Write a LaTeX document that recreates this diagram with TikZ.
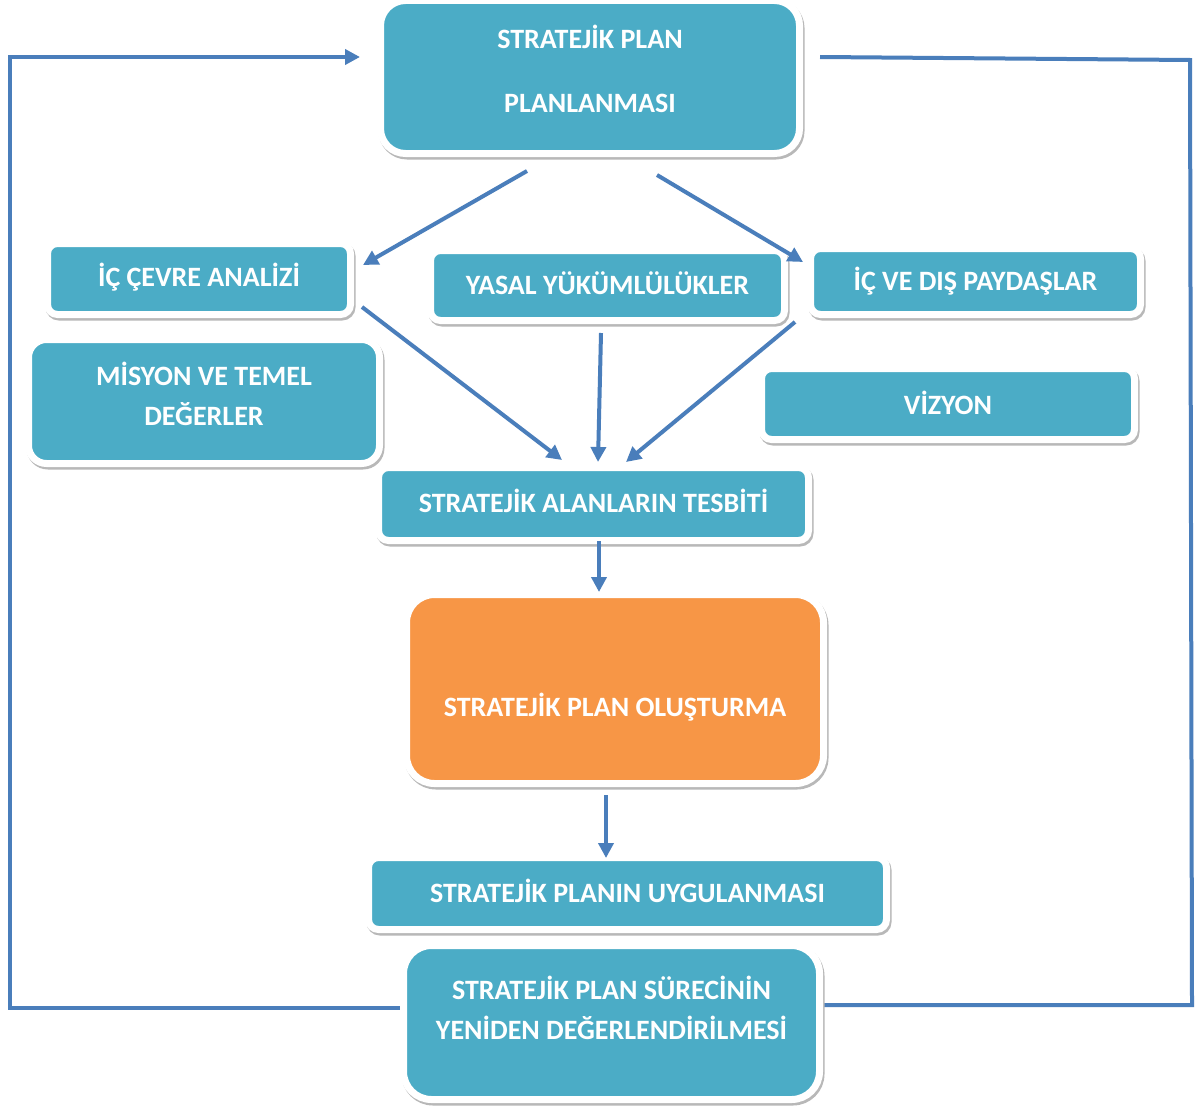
\documentclass[tikz,border=0pt]{standalone}
\usepackage{fontspec}
\setmainfont{Carlito}
\usetikzlibrary{calc,arrows.meta}
\definecolor{tealbox}{HTML}{4BACC6}
\definecolor{orangebox}{HTML}{F79646}
\definecolor{arrc}{HTML}{4A7EBB}
\tikzset{
  box/.style={draw=white, line width=7pt, fill=tealbox, rounded corners=#1, inner sep=0pt, outer sep=3.5pt,
    preaction={draw=black!28, fill=black!28, line width=7pt, transform canvas={shift={(1.5pt,-2.5pt)}}}},
  box/.default=10pt,
  txt/.style={text=white, font=\bfseries\fontsize{28}{40}\selectfont, align=center, inner sep=0pt},
  arr/.style={draw=arrc, line width=4pt, -{Triangle[length=15pt,width=15pt]}},
  loopline/.style={draw=arrc, line width=4pt, line join=miter}
}
\begin{document}
\begin{tikzpicture}[x=1pt,y=-1pt]
\useasboundingbox[fill=white] (0,0) rectangle (1198,1108);
% boxes
\node[box=25pt, minimum width=419pt, minimum height=153pt] (top) at (590,77) {};
\node[box, minimum width=303pt, minimum height=71pt] (b2) at (199,279) {};
\node[box, minimum width=354pt, minimum height=70pt] (b3) at (607.5,285.5) {};
\node[box, minimum width=330pt, minimum height=66pt] (b4) at (975.5,281.5) {};
\node[box=18pt, minimum width=351pt, minimum height=124pt] (b5) at (204,401.5) {};
\node[box, minimum width=373pt, minimum height=71pt] (b6) at (948,404) {};
\node[box, minimum width=430pt, minimum height=73pt] (b7) at (593.5,504) {};
\node[box=28pt, fill=orangebox, minimum width=417pt, minimum height=189pt] (b8) at (615,689) {};
\node[box, minimum width=518pt, minimum height=72pt] (b9) at (627.5,893.5) {};
\coordinate (b10c) at (611.5,1022.5);
\coordinate (LL) at (10,57);
\coordinate (RT) at (1190,60);
\coordinate (RB) at (1192,1005);
% feedback loops (drawn under the last box)
\draw[loopline, -{Triangle[length=15pt,width=15pt]}] ($(b10c)+(0,-14.5)$) -| (LL) -- ($(top.west)+(-17,-20)$);
\draw[loopline] ($(b10c)+(0,-17.5)$) -- (RB) -- (RT) -- ($(top.east)+(17,-20)$);
\node[box=28pt, minimum width=416pt, minimum height=154pt] (b10) at (b10c) {};
% texts
\node[txt] (t1) at ($(top.center)+(0,-8)$) {STRATEJİK PLAN\\[24pt]PLANLANMASI};
\node[txt] (t2) at ($(b2.center)+(0,-2)$) {İÇ ÇEVRE ANALİZİ};
\node[txt] (t3) at ($(b3.center)+(0,-2.5)$) {YASAL YÜKÜMLÜLÜKLER};
\node[txt] (t4) at ($(b4.center)+(0,-0.5)$) {İÇ VE DIŞ PAYDAŞLAR};
\node[txt] (t5) at ($(b5.center)+(0,-7.5)$) {MİSYON VE TEMEL\\DEĞERLER};
\node[txt] (t6) at ($(b6.center)+(0,-1)$) {VİZYON};
\node[txt] (t7) at ($(b7.center)+(0,-3)$) {STRATEJİK ALANLARIN TESBİTİ};
\node[txt] (t8) at ($(b8.center)+(0,18)$) {STRATEJİK PLAN OLUŞTURMA};
\node[txt] (t9) at ($(b9.center)+(0,-2.5)$) {STRATEJİK PLANIN UYGULANMASI};
\node[txt] (t10) at ($(b10.center)+(0,-15)$) {STRATEJİK PLAN SÜRECİNİN\\YENİDEN DEĞERLENDİRİLMESİ};
% connectors
\draw[arr] ($(top.south)+(-63,14)$) -- ($(b2.north east)+(9,25)$);
\draw[arr] ($(top.south)+(67,18)$) -- ($(b4.north west)+(-4,17)$);
\draw[arr] ($(b2.south east)+(8,-11)$) -- ($(b7.north)+(-31.5,-4)$);
\draw[arr] ($(b3.south)+(-6.5,9)$) -- ($(b7.north)+(4.5,-2)$);
\draw[arr] ($(b4.south west)+(-12,4)$) -- ($(b7.north)+(32.5,-2)$);
\draw[arr] ($(b7.south)+(5.5,-3)$) -- ($(b8.north)+(-16,1)$);
\draw[arr] ($(b8.south)+(-9,8)$) -- ($(b9.north)+(-21.5,4)$);
\end{tikzpicture}
\end{document}
